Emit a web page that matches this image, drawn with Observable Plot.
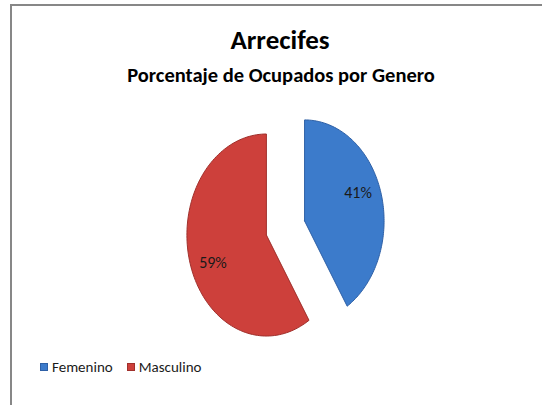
<!DOCTYPE html>
<html>
<head>
<meta charset="utf-8">
<script src="https://cdn.jsdelivr.net/npm/d3@7"></script>
<script src="https://cdn.jsdelivr.net/npm/@observablehq/plot@0.6"></script>
<style>
  html, body { margin: 0; padding: 0; background: #fff; }
  #wrap { position: relative; width: 542px; height: 405px; overflow: hidden; background: #fff;
          font-family: Carlito, "Liberation Sans Narrow", "Open Sans", "DejaVu Sans Condensed", sans-serif; }
  #bt { position: absolute; left: 10px; top: 4px; width: 532px; height: 2px; background: #878787; }
  #bl { position: absolute; left: 10px; top: 4px; width: 2px; height: 401px; background: #878787; }
  #title { position: absolute; left: 0; width: 560px; top: 22px; text-align: center; font-weight: bold; font-size: 27px; color: #000; line-height: 36px; }
  #subtitle { position: absolute; left: 0; width: 562px; top: 62px; text-align: center; font-weight: bold; font-size: 20.5px; color: #000; line-height: 26px; }
  #chart { position: absolute; left: 0; top: 100px; }
  #legend { position: absolute; left: 40px; top: 357px; font-size: 15px; color: #1a1a1a; display: flex; gap: 14px; line-height: 20px; }
  .item { display: flex; align-items: center; }
  .sw { width: 8px; height: 8px; margin-right: 4px; box-sizing: border-box; }
</style>
</head>
<body>
<div id="wrap">
  <div id="bt"></div><div id="bl"></div>
  <div id="title"></div>
  <div id="subtitle"></div>
  <div id="chart"></div>
  <div id="legend"></div>
</div>
<script>
const titleText = "Arrecifes";
const subtitleText = "Porcentaje de Ocupados por Genero";
const categories = ["Femenino", "Masculino"];
const values = [41, 59];
const colors = ["#3C7BCB", "#CD403B"];
const edgeColors = ["#2E60A6", "#A0302C"];

document.getElementById("title").textContent = titleText;
document.getElementById("subtitle").textContent = subtitleText;

const explode = 0.25;
const arcs = d3.pie().sort(null).value(d => d.value)(categories.map((c, i) => ({cat: c, value: values[i]})));
const polyPts = [];
const labels = [];
arcs.forEach(a => {
  const mid = (a.startAngle + a.endAngle) / 2;
  const ox = explode * Math.sin(mid), oy = explode * Math.cos(mid);
  polyPts.push({cat: a.data.cat, x: ox, y: oy});
  const n = 120;
  for (let k = 0; k <= n; k++) {
    const t = a.startAngle + (a.endAngle - a.startAngle) * k / n;
    polyPts.push({cat: a.data.cat, x: ox + Math.sin(t), y: oy + Math.cos(t)});
  }
  polyPts.push({cat: a.data.cat, x: ox, y: oy});
  labels.push({cat: a.data.cat, x: ox + 0.7 * Math.sin(mid), y: oy + 1.0 * Math.cos(mid),
               text: Math.round(a.data.value) + "%"});
});

const plot = Plot.plot({
  width: 542, height: 250,
  margin: 0,
  x: {domain: [-3.585, 3.233], axis: null},
  y: {domain: [-1.213, 1.262], axis: null},
  color: {domain: categories, range: colors},
  marks: [
    Plot.line(polyPts, {x: "x", y: "y", z: "cat", fill: "cat", stroke: d => d.cat,
      curve: "linear"}),
    Plot.text(labels, {x: "x", y: "y", text: "text", fontSize: 16, fill: "#1a1a1a"})
  ],
  style: {fontFamily: 'Carlito, "Liberation Sans Narrow", "Open Sans", sans-serif', background: "transparent"}
});
plot.querySelectorAll("path").forEach((p, i) => {
  p.setAttribute("stroke", edgeColors[i] || "none");
  p.setAttribute("stroke-width", "1");
});
document.getElementById("chart").appendChild(plot);

const leg = document.getElementById("legend");
categories.forEach((c, i) => {
  const it = document.createElement("div"); it.className = "item";
  const sw = document.createElement("div"); sw.className = "sw";
  sw.style.background = colors[i]; sw.style.border = "1px solid " + edgeColors[i];
  const tx = document.createElement("span"); tx.textContent = c;
  it.appendChild(sw); it.appendChild(tx); leg.appendChild(it);
});
</script>
</body>
</html>
